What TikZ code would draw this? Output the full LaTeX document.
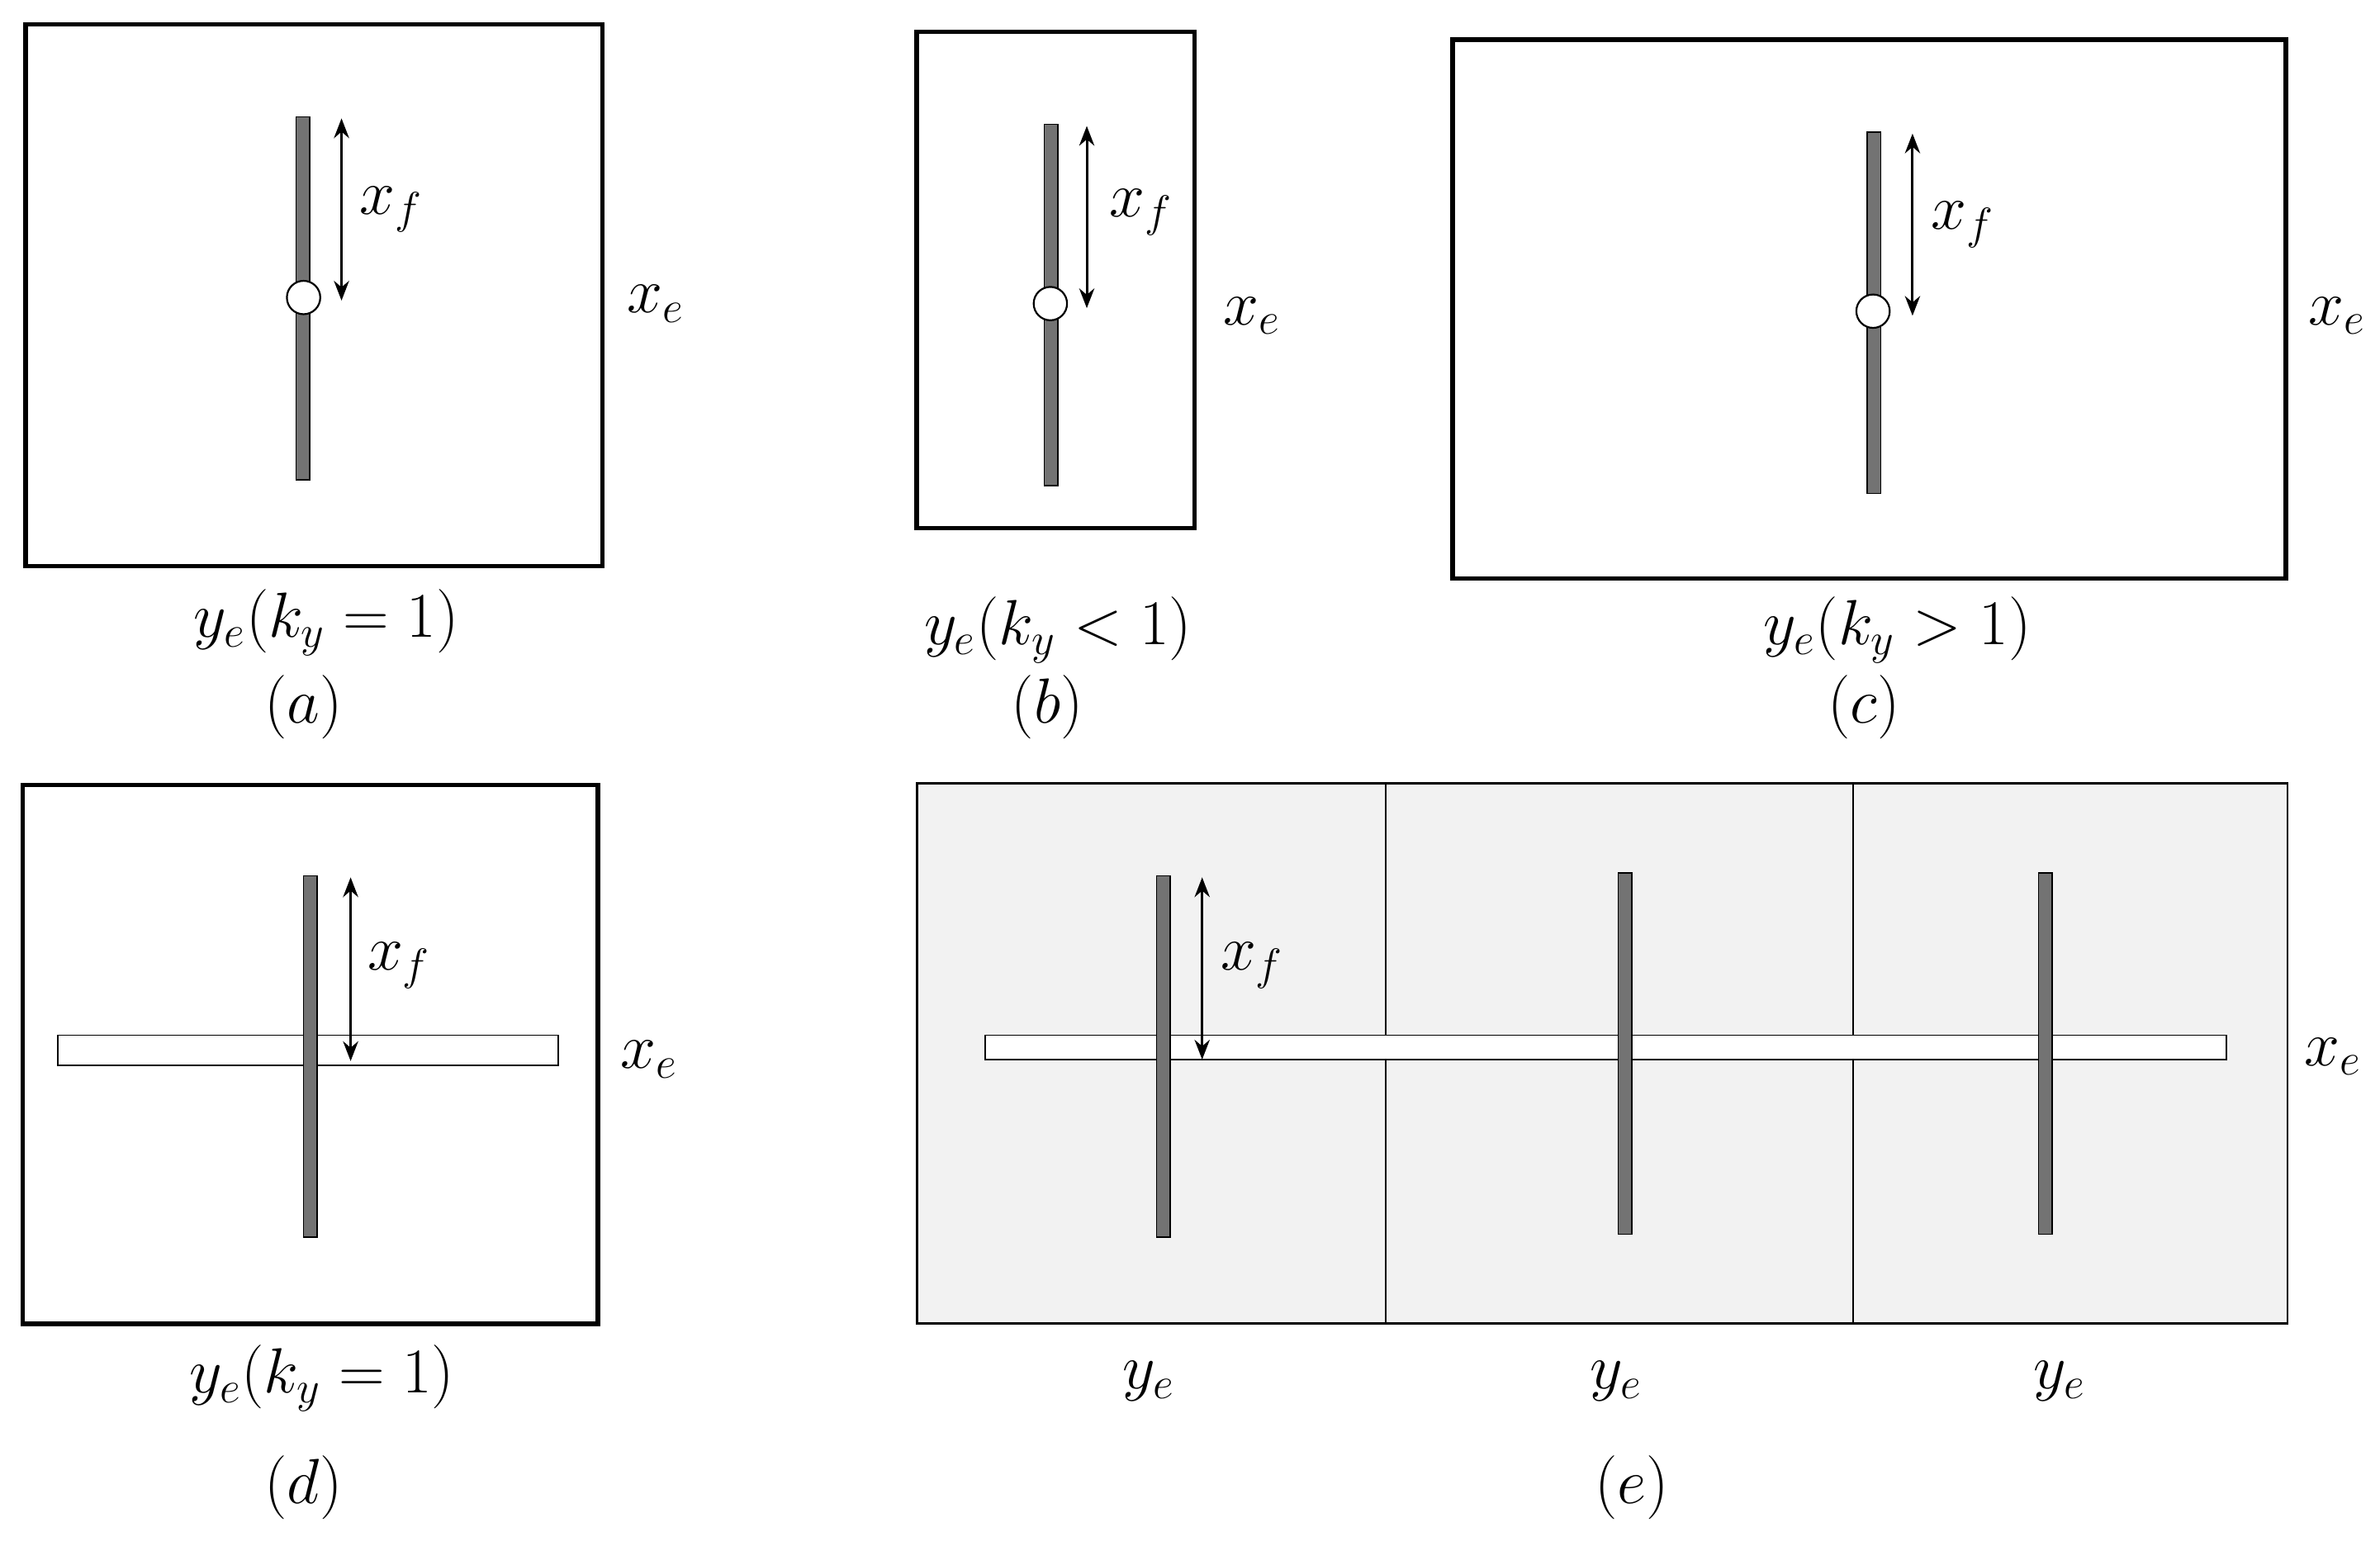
\documentclass[tikz,border=0pt]{standalone}
\usepackage{fix-cm}
\usetikzlibrary{arrows.meta}
\begin{document}
\begin{tikzpicture}[x=1pt,y=-1pt,
  frame/.style={draw=black,line width=3pt},
  vbar/.style={draw=black,fill=black!55,line width=0.8pt},
  hbar/.style={draw=black,fill=white,line width=1pt},
  pin/.style={draw=black,fill=white,line width=1.2pt},
  dim/.style={{Stealth[length=13pt,width=10pt]}-{Stealth[length=13pt,width=10pt]},line width=1.6pt},
  lab/.style={font=\fontsize{20}{24}\selectfont,scale=2.1}]
\useasboundingbox (0,0) rectangle (1568,1018);
% (a)
\draw[frame] (17,16) rectangle (397,373);
\draw[vbar] (195,77) rectangle (204,316);
\node[pin,circle,minimum size=22pt,inner sep=0] (ca) at (200,196) {};
\coordinate (a1) at (225,78); \coordinate (a2) at (225,198);
\draw[dim] (a1) -- (a2);
\node[lab] (xfa) at (258,138) {$x_f$};
\node[lab] (xea) at (432,200) {$x_e$};
\node[lab] (ya) at (215,410) {$y_e\Bigl(k_y=1\Bigr)$};
\node[lab] (pa) at (200,466) {$(a)$};
% (b)
\draw[frame] (604,21) rectangle (787,348);
\draw[vbar] (688,82) rectangle (697,320);
\node[pin,circle,minimum size=22pt,inner sep=0] (cb) at (692,200) {};
\coordinate (b1) at (716,83); \coordinate (b2) at (716,203);
\draw[dim] (b1) -- (b2);
\node[lab] (xfb) at (752,140) {$x_f$};
\node[lab] (xeb) at (825,208) {$x_e$};
\node[lab] (yb) at (697,415) {$y_e\Bigl(k_y<1\Bigr)$};
\node[lab] (pb) at (690,466) {$(b)$};
% (c)
\draw[frame] (957,26) rectangle (1506,381);
\draw[vbar] (1230,87) rectangle (1239,325);
\node[pin,circle,minimum size=22pt,inner sep=0] (cc) at (1234,205) {};
\coordinate (c1) at (1260,88); \coordinate (c2) at (1260,208);
\draw[dim] (c1) -- (c2);
\node[lab] (xfc) at (1293,148) {$x_f$};
\node[lab] (xec) at (1540,208) {$x_e$};
\node[lab] (yc) at (1250,415) {$y_e\Bigl(k_y>1\Bigr)$};
\node[lab] (pc) at (1228,466) {$(c)$};
% (d)
\draw[frame] (15,517) rectangle (394,872);
\draw[hbar] (38,682) rectangle (368,702);
\draw[vbar] (200,577) rectangle (209,815);
\coordinate (d1) at (231,578); \coordinate (d2) at (231,699);
\draw[dim] (d1) -- (d2);
\node[lab] (xfd) at (263,636) {$x_f$};
\node[lab] (xed) at (428,698) {$x_e$};
\node[lab] (yd) at (212,908) {$y_e\Bigl(k_y=1\Bigr)$};
\node[lab] (pd) at (200,980) {$(d)$};
% (e)
\draw[fill=black!5,line width=1.5pt] (604,516) rectangle (1507,872);
\draw[line width=1.2pt] (913,516) -- (913,872) (1221,516) -- (1221,872);
\draw[hbar] (649,682) rectangle (1467,698);
\draw[vbar] (762,577) rectangle (771,815);
\draw[vbar] (1066,575) rectangle (1075,813);
\draw[vbar] (1343,575) rectangle (1352,813);
\coordinate (e1) at (792,578); \coordinate (e2) at (792,698);
\draw[dim] (e1) -- (e2);
\node[lab] (xfe) at (825,636) {$x_f$};
\node[lab] (xee) at (1537,696) {$x_e$};
\node[lab] (ye1) at (757,910) {$y_e$};
\node[lab] (ye2) at (1065,910) {$y_e$};
\node[lab] (ye3) at (1357,910) {$y_e$};
\node[lab] (pe) at (1075,980) {$(e)$};
\end{tikzpicture}
\end{document}
